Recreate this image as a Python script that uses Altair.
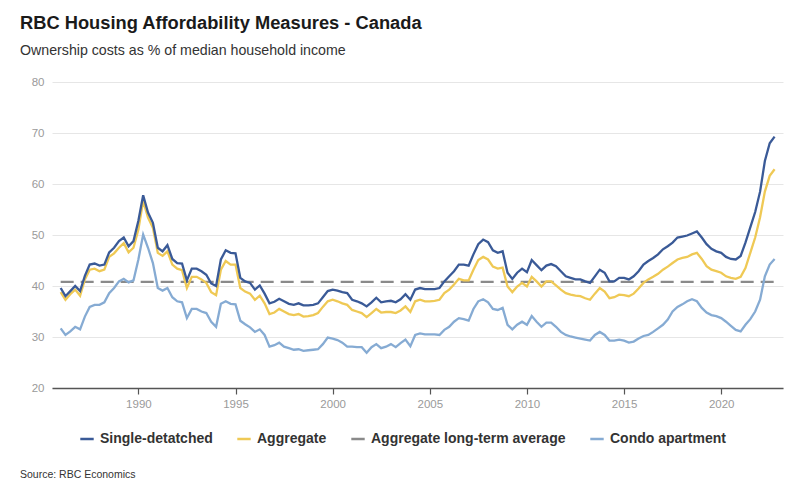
import altair as alt
import pandas as pd

# ---- data (quarterly, 1986 Q1 .. 2022 Q4) ----
first_quarter = "1986-01-01"

single_detached = [
    39.6, 38.0, 39.0, 40.0, 39.0, 42.0, 44.2, 44.4, 44.0, 44.2,
    46.6, 47.5, 48.8, 49.5, 47.8, 48.8, 52.8, 57.8, 54.4, 52.4,
    47.5, 46.8, 48.0, 45.3, 44.5, 44.4, 41.1, 43.4, 43.4, 42.9,
    42.2, 40.5, 40.0, 45.2, 47.0, 46.5, 46.4, 41.6, 40.9, 40.6,
    39.3, 40.1, 38.5, 36.6, 36.9, 37.5, 37.0, 36.5, 36.3, 36.6,
    36.2, 36.2, 36.3, 36.6, 37.8, 39.0, 39.3, 39.1, 38.8, 38.6,
    37.3, 37.0, 36.6, 36.0, 36.8, 37.7, 36.8, 37.0, 37.1, 36.8,
    37.4, 38.4, 37.3, 39.3, 39.6, 39.4, 39.4, 39.4, 39.6, 40.9,
    41.9, 42.9, 44.2, 44.2, 44.0, 46.2, 48.2, 49.1, 48.6, 47.0,
    46.5, 46.8, 42.6, 41.4, 42.6, 43.4, 42.7, 45.1, 44.1, 43.1,
    44.0, 44.3, 43.9, 42.9, 41.9, 41.6, 41.3, 41.3, 40.9, 40.6,
    41.9, 43.2, 42.6, 40.9, 40.9, 41.6, 41.6, 41.3, 41.9, 42.9,
    44.2, 44.9, 45.5, 46.2, 47.2, 47.8, 48.5, 49.5, 49.7, 49.9,
    50.3, 50.7, 49.5, 48.2, 47.3, 46.8, 46.5, 45.7, 45.3, 45.2,
    45.9, 48.5, 51.5, 54.5, 58.5, 64.5, 68.0, 69.3,
]

aggregate = [
    38.8, 37.3, 38.4, 39.3, 38.1, 41.3, 43.2, 43.4, 42.9, 43.2,
    45.7, 46.4, 47.5, 48.4, 46.6, 47.5, 51.1, 56.7, 53.4, 51.4,
    46.5, 45.9, 46.8, 44.2, 43.4, 43.1, 39.6, 41.8, 41.8, 41.3,
    40.6, 38.8, 38.2, 43.2, 44.9, 44.2, 44.2, 39.6, 38.9, 38.5,
    37.3, 38.1, 36.6, 34.5, 34.8, 35.5, 35.0, 34.5, 34.3, 34.5,
    34.0, 34.1, 34.3, 34.7, 35.9, 37.0, 37.3, 37.0, 36.6, 36.3,
    35.3, 35.0, 34.7, 33.9, 34.7, 35.5, 34.8, 34.9, 34.9, 34.7,
    35.2, 36.0, 34.9, 37.0, 37.3, 37.0, 37.0, 37.1, 37.3, 38.6,
    39.3, 40.3, 41.4, 41.1, 41.1, 43.2, 45.1, 45.7, 45.2, 43.8,
    43.4, 43.6, 39.9, 38.8, 39.9, 40.6, 39.9, 41.8, 40.9, 39.9,
    40.9, 40.9, 40.1, 39.3, 38.6, 38.3, 38.1, 38.0, 37.6, 37.3,
    38.5, 39.6, 38.9, 37.6, 37.8, 38.3, 38.2, 38.0, 38.5, 39.5,
    40.6, 41.3, 41.8, 42.4, 43.2, 43.8, 44.5, 45.2, 45.5, 45.7,
    46.2, 46.5, 45.3, 43.9, 43.2, 42.9, 42.6, 41.9, 41.6, 41.4,
    41.8, 43.5, 46.5, 49.5, 53.5, 58.5, 61.6, 62.9,
]

condo_apartment = [
    31.7, 30.4, 31.1, 32.0, 31.5, 34.0, 35.9, 36.3, 36.3, 36.8,
    38.6, 39.6, 40.9, 41.4, 40.7, 41.1, 45.2, 50.1, 47.5, 44.5,
    39.6, 39.1, 39.6, 37.8, 37.0, 36.8, 33.7, 35.5, 35.5, 35.0,
    34.7, 33.0, 32.0, 36.5, 37.0, 36.5, 36.4, 33.2, 32.5, 31.9,
    31.0, 31.5, 30.4, 28.1, 28.4, 28.9, 28.1, 27.8, 27.5, 27.6,
    27.3, 27.4, 27.5, 27.6, 28.6, 29.9, 29.7, 29.4, 28.9, 28.1,
    28.1, 28.0, 28.0, 26.9, 28.0, 28.6, 27.8, 28.1, 28.6, 28.0,
    28.8, 29.5, 28.2, 30.4, 30.7, 30.5, 30.5, 30.5, 30.4, 31.4,
    32.0, 33.0, 33.7, 33.5, 33.2, 35.5, 37.0, 37.4, 36.8, 35.5,
    35.3, 35.7, 32.4, 31.5, 32.4, 33.0, 32.4, 34.1, 33.0, 32.0,
    32.8, 32.8, 32.0, 31.0, 30.4, 30.1, 29.9, 29.7, 29.5, 29.3,
    30.4, 31.0, 30.4, 29.3, 29.3, 29.5, 29.3, 28.9, 29.1, 29.7,
    30.2, 30.4, 31.0, 31.7, 32.4, 33.4, 35.0, 35.9, 36.4, 37.0,
    37.4, 37.0, 35.7, 34.8, 34.3, 34.1, 33.7, 33.0, 32.2, 31.4,
    31.1, 32.4, 33.5, 35.0, 37.3, 41.9, 44.2, 45.3,
]

long_term_average = 40.8

series_names = ["Single-detatched", "Aggregate", "Aggregate long-term average", "Condo apartment"]
series_colors = ["#3a5a97", "#efc955", "#8a8a8a", "#86abd3"]

y_ticks = [20, 30, 40, 50, 60, 70, 80]

# ---- tables ----
dates = pd.date_range(first_quarter, periods=len(single_detached), freq="QS")
date_str = [d.strftime("%Y-%m-%d") for d in dates]

def series_frame(name, values):
    return pd.DataFrame({"date": date_str, "value": values, "series": name})

df_single = series_frame("Single-detatched", single_detached)
df_agg = series_frame("Aggregate", aggregate)
df_condo = series_frame("Condo apartment", condo_apartment)
df_avg = pd.DataFrame({
    "date": [date_str[0], date_str[-1]],
    "value": [long_term_average, long_term_average],
    "series": ["Aggregate long-term average"] * 2,
})
df_source = pd.DataFrame({"t": ["Source: RBC Economics"]})

FONT = "Liberation Sans"

x_enc = alt.X(
    "date:T",
    scale=alt.Scale(
        type="utc",
        domain=[alt.DateTime(year=1985, month=7, date=22, utc=True),
                alt.DateTime(year=2023, month=3, date=8, utc=True)],
    ),
    axis=alt.Axis(
        title=None, format="%Y", formatType="utc",
        tickCount={"interval": "year", "step": 5},
        grid=False, domainColor="#555555", domainWidth=1.5,
        tickColor="#555555", tickWidth=1.2, tickSize=6,
        labelColor="#9a9a9a", labelFontSize=11.5, labelPadding=4, labelFont=FONT,
    ),
)
y_enc = alt.Y(
    "value:Q",
    scale=alt.Scale(domain=[20, 80], nice=False, zero=False),
    axis=alt.Axis(
        title=None, values=y_ticks, grid=True, gridColor="#e6e6e6", gridWidth=1,
        domain=False, ticks=False, tickSize=0, labelPadding=8,
        labelColor="#9a9a9a", labelFontSize=11.5, labelFont=FONT,
    ),
)
color_enc = alt.Color(
    "series:N",
    scale=alt.Scale(domain=series_names, range=series_colors),
    legend=alt.Legend(
        title=None, orient="none", direction="horizontal",
        legendX=27, legendY=349, padding=0,
        symbolType="stroke", symbolSize=180, symbolStrokeWidth=2.5,
        labelFontSize=14, labelFontWeight="bold", labelColor="#333333", labelFont=FONT,
        labelOffset=5, columnPadding=19, labelLimit=0,
    ),
)

avg_layer = alt.Chart(df_avg).mark_line(strokeWidth=2.2, strokeDash=[13, 7]).encode(
    x=x_enc, y=y_enc, color=color_enc
)

def line_layer(df):
    return alt.Chart(df).mark_line(strokeWidth=2.3).encode(x=x_enc, y=y_enc, color=color_enc)

source_layer = alt.Chart(df_source).mark_text(
    align="left", baseline="middle", font=FONT, fontSize=10.5, color="#333333"
).encode(text="t:N", x=alt.value(-32), y=alt.value(393))

chart = alt.layer(
    avg_layer,
    line_layer(df_condo),
    line_layer(df_agg),
    line_layer(df_single),
    source_layer,
).properties(
    width=731,
    height=306,
    padding={"left": 44, "top": 74, "right": 9, "bottom": 96},
    autosize=alt.AutoSizeParams(type="none"),
    title=alt.TitleParams(
        text="RBC Housing Affordability Measures - Canada",
        subtitle="Ownership costs as % of median household income",
        anchor="start", frame="group", dx=-32, offset=17,
        font=FONT, fontSize=18.3, fontWeight="bold", color="#1a1a1a",
        subtitleFont=FONT, subtitleFontSize=14.2, subtitleColor="#333333",
        subtitlePadding=11,
    ),
).configure_view(stroke=None)

chart.save("out.html", embed_options={"renderer": "svg", "actions": False})
